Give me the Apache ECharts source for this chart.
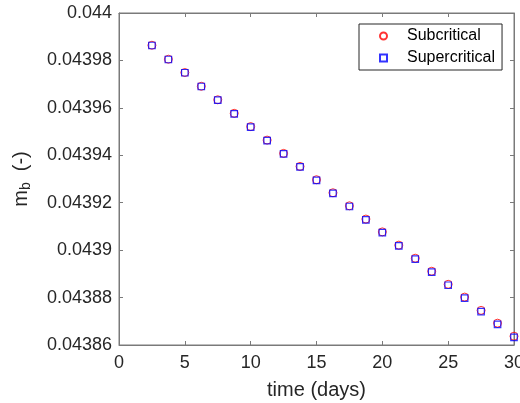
<!DOCTYPE html>
<html>
<head>
<meta charset="utf-8">
<script src="https://cdn.jsdelivr.net/npm/echarts@6/dist/echarts.min.js"></script>
<style>html,body{margin:0;padding:0;background:#fff;}#c{width:520px;height:403px;}</style>
</head>
<body>
<div id="c"></div>
<script>
var days = [2.5, 3.75, 5, 6.25, 7.5, 8.75, 10, 11.25, 12.5, 13.75, 15, 16.25, 17.5, 18.75, 20, 21.25, 22.5, 23.75, 25, 26.25, 27.5, 28.75, 30];
var subcritical = [0.0439864, 0.0439805, 0.0439749, 0.0439691, 0.0439634, 0.0439577, 0.0439521, 0.0439464, 0.0439408, 0.0439353, 0.0439297, 0.0439242, 0.0439187, 0.0439131, 0.0439077, 0.0439021, 0.0438966, 0.0438911, 0.0438856, 0.0438802, 0.0438746, 0.0438692, 0.0438637];
var supercritical = [0.0439863, 0.0439804, 0.0439748, 0.0439690, 0.0439633, 0.0439575, 0.0439519, 0.0439462, 0.0439406, 0.0439351, 0.0439294, 0.0439239, 0.0439184, 0.0439128, 0.0439074, 0.0439018, 0.0438962, 0.0438907, 0.0438852, 0.0438798, 0.0438741, 0.0438687, 0.0438632];
var seriesNames = ['Subcritical', 'Supercritical'];
var xLabel = 'time (days)';

var FONT = '"Liberation Sans", Arial, sans-serif';
var TXT = '#262626';
var AX = '#7a7a7a';

function pairs(xs, ys) { return xs.map(function (x, i) { return [x, ys[i]]; }); }

function axLine() { return { show: true, onZero: false, lineStyle: { color: AX, width: 1 } }; }
function axTick() { return { show: true, inside: true, length: 4, lineStyle: { color: AX } }; }

var chart = echarts.init(document.getElementById('c'), null, { renderer: 'canvas' });

chart.setOption({
  animation: false,
  backgroundColor: '#fff',
  grid: { left: 119, right: 6, top: 13, bottom: 58, containLabel: false, outerBoundsMode: 'none',
    show: true, borderColor: AX, borderWidth: 1, backgroundColor: 'transparent' },
  legend: {
    orient: 'vertical', left: 359, top: 24,
    padding: [4, 7, 4, 20],
    itemWidth: 7, itemHeight: 7, itemGap: 6,
    backgroundColor: '#fff', borderColor: TXT, borderWidth: 1,
    textStyle: { fontFamily: FONT, fontSize: 16, color: '#000', padding: [0, 0, 0, 15] },
    data: seriesNames
  },
  xAxis: [
    { type: 'value', min: 0, max: 30, interval: 5, position: 'bottom', splitLine: { show: false },
      axisLine: axLine(), axisTick: axTick(),
      name: xLabel, nameLocation: 'middle', nameGap: 35,
      nameTextStyle: { fontFamily: FONT, fontSize: 20, color: TXT },
      axisLabel: { fontFamily: FONT, fontSize: 18, color: TXT, margin: 9 } },
    { type: 'value', min: 0, max: 30, interval: 5, position: 'top', splitLine: { show: false },
      axisLine: axLine(), axisTick: axTick(), axisLabel: { show: false } }
  ],
  yAxis: [
    { type: 'value', min: 0.04386, max: 0.044, interval: 0.00002, position: 'left', splitLine: { show: false },
      axisLine: axLine(), axisTick: axTick(),
      name: '{m|m}{b|b}{n|  (-)}', nameLocation: 'middle', nameGap: 86,
      nameTextStyle: { fontFamily: FONT, fontSize: 20, color: TXT,
        rich: { m: { fontFamily: FONT, fontSize: 20, color: TXT },
                b: { fontFamily: FONT, fontSize: 14, color: TXT, padding: [10, 0, 0, 0] },
                n: { fontFamily: FONT, fontSize: 20, color: TXT } } },
      axisLabel: { fontFamily: FONT, fontSize: 18, color: TXT, margin: 7,
        formatter: function (v) { return String(parseFloat(v.toFixed(5))); } } },
    { type: 'value', min: 0.04386, max: 0.044, interval: 0.00002, position: 'right', splitLine: { show: false },
      axisLine: axLine(), axisTick: axTick(), axisLabel: { show: false } }
  ],
  series: [
    { name: seriesNames[0], type: 'scatter', symbol: 'circle', symbolSize: 8,
      itemStyle: { color: 'rgba(255,255,255,0)', borderColor: '#ff0000', borderWidth: 1 },
      data: pairs(days, subcritical) },
    { name: seriesNames[1], type: 'scatter', symbol: 'rect', symbolSize: 6.5,
      itemStyle: { color: 'rgba(255,255,255,0)', borderColor: '#0000ff', borderWidth: 1.2 },
      data: pairs(days, supercritical) }
  ]
});
</script>
</body>
</html>
